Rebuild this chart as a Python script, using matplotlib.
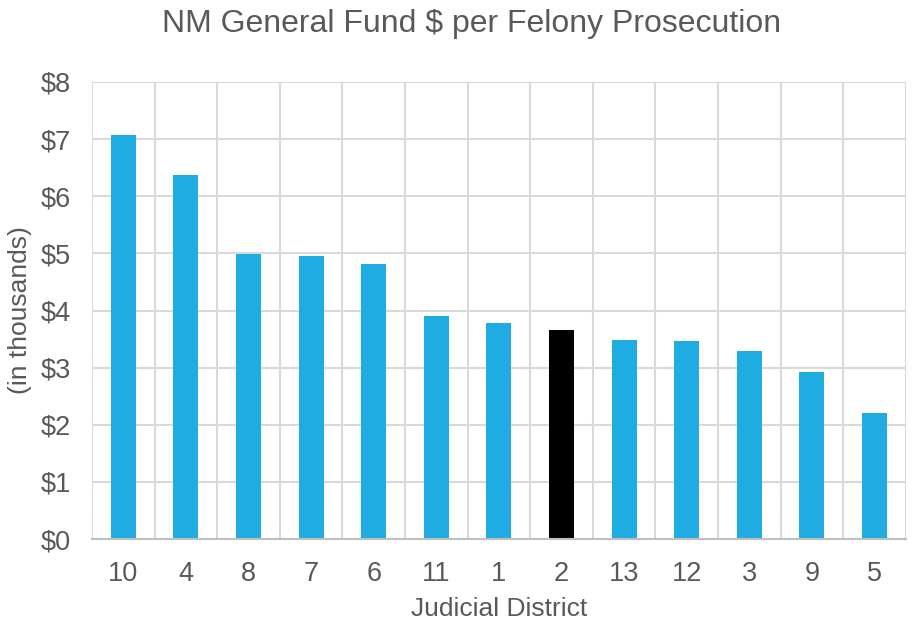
import numpy as np
import matplotlib.pyplot as plt

# NM General Fund $ per felony prosecution, by judicial district (in thousands)
districts = ["10", "4", "8", "7", "6", "11", "1", "2", "13", "12", "3", "9", "5"]
dollars = [7.07, 6.37, 4.99, 4.96, 4.82, 3.91, 3.78, 3.66, 3.49, 3.47, 3.29, 2.92, 2.21]
highlight = "2"

plt.rcParams['font.family'] = ['Liberation Sans', 'DejaVu Sans']
text_col = "#595959"

fig = plt.figure(figsize=(9.14, 6.25), dpi=100)
ax = fig.add_axes([0.1007, 0.1376, 0.8903, 0.7312])

x = np.arange(len(districts))
colors = ["#000000" if d == highlight else "#1EACE3" for d in districts]
ax.bar(x, dollars, width=0.4, color=colors, zorder=3)

ax.set_xlim(-0.5, len(districts) - 0.5)
ax.set_ylim(0, 8)
ax.set_yticks(range(0, 9))
ax.set_yticklabels(["$%d" % v for v in range(0, 9)])
ax.set_xticks(x)
ax.set_xticklabels(districts)

# vertical gridlines sit between categories
ax.set_xticks(np.arange(-0.5, len(districts), 1), minor=True)
ax.grid(axis="x", which="minor", color="#D9D9D9", linewidth=1.5, zorder=0)
ax.grid(axis="y", which="major", color="#D9D9D9", linewidth=1.5, zorder=0)

for s in ["top", "right", "left"]:
    ax.spines[s].set_visible(False)
ax.spines["bottom"].set_color("#BFBFBF")
ax.spines["bottom"].set_linewidth(1.5)
ax.spines["bottom"].set_zorder(4)

ax.tick_params(axis="both", which="both", length=0, labelsize=19.5, colors=text_col)
ax.tick_params(axis="x", pad=16)
ax.tick_params(axis="y", pad=15)

ax.set_xlabel("Judicial District", fontsize=19, color=text_col, labelpad=7)
ax.set_ylabel("(in thousands)", fontsize=19, color=text_col, labelpad=6)
fig.suptitle("NM General Fund $ per Felony Prosecution", fontsize=23, color=text_col,
             x=0.516, y=0.985)

fig.savefig("out.png", dpi=100)
